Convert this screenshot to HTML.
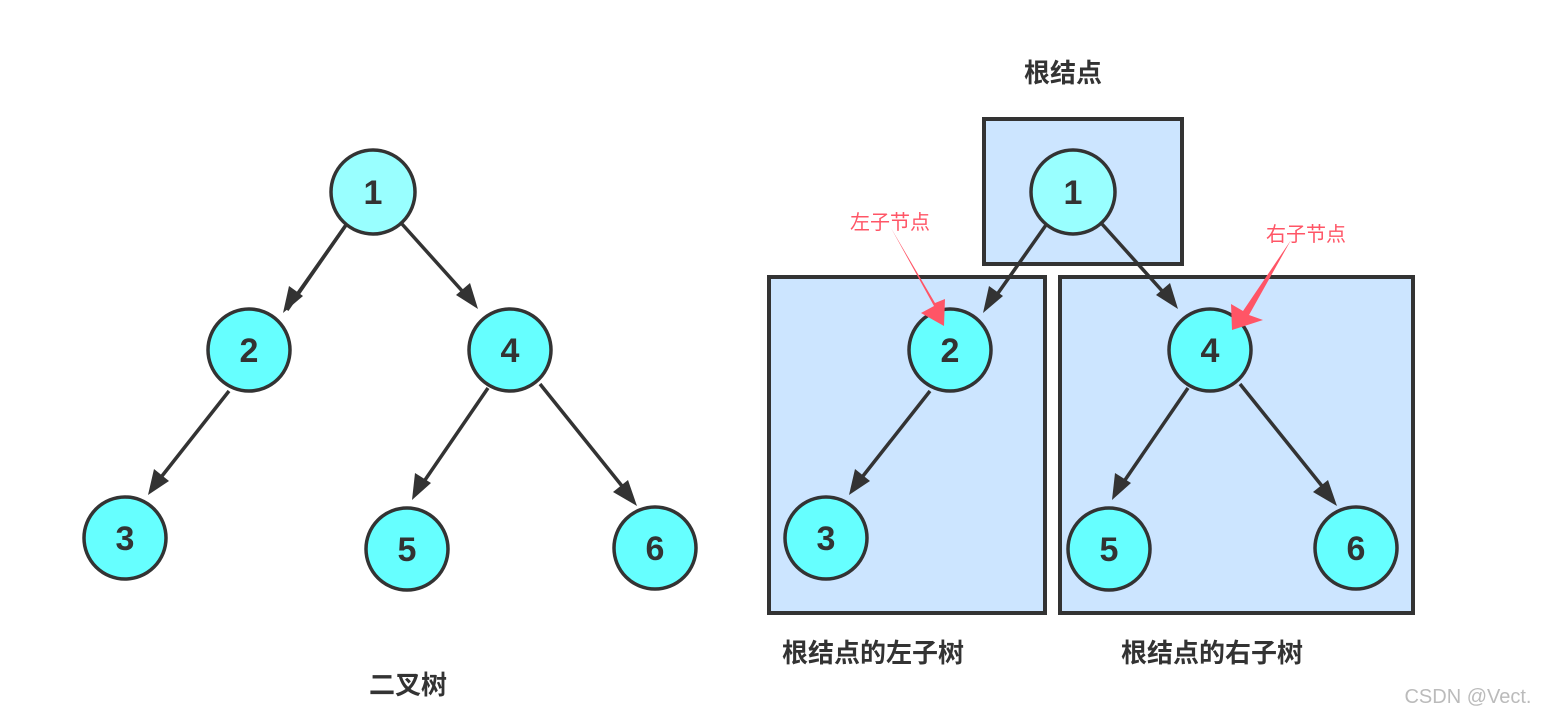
<!DOCTYPE html>
<html><head><meta charset="utf-8"><style>
body{margin:0;background:#fff;}
svg{display:block}
</style></head><body>
<svg width="1562" height="724" viewBox="0 0 1562 724" xmlns="http://www.w3.org/2000/svg">
<defs>
<marker id="a" markerWidth="10" markerHeight="10" refX="8" refY="5" orient="auto" markerUnits="userSpaceOnUse" viewBox="0 0 10 10">
<path d="M0,0 L10,5 L0,10 L3,5 z" fill="#333"/></marker>
</defs>
<g font-family="'Liberation Sans','Noto Sans CJK SC',sans-serif">
<!-- boxes -->
<rect x="984" y="119" width="198" height="145" fill="#cce5ff" stroke="#333" stroke-width="4"/>
<rect x="769" y="277" width="276" height="336" fill="#cce5ff" stroke="#333" stroke-width="4"/>
<rect x="1060" y="277" width="353" height="336" fill="#cce5ff" stroke="#333" stroke-width="4"/>
<g stroke="#333" stroke-width="3.5" fill="none">
<line x1="346" y1="225" x2="287" y2="310" marker-end="url(#a)" style="marker-end:none"/>
</g>
<g id="edges" stroke="#333" stroke-width="3.5">
</g>
<g stroke="#333" stroke-width="3.5">
<!-- left tree -->
<line x1="346" y1="225" x2="296" y2="296"/><line x1="402" y1="224" x2="464" y2="293"/>
<line x1="229" y1="391" x2="162" y2="476"/><line x1="488" y1="388" x2="425" y2="480"/>
<line x1="540" y1="384" x2="622" y2="486"/>
<line x1="1046" y1="225" x2="996" y2="296"/><line x1="1102" y1="224" x2="1164" y2="293"/>
<line x1="930" y1="391" x2="863" y2="476"/><line x1="1188" y1="388" x2="1125" y2="480"/>
<line x1="1240" y1="384" x2="1322" y2="486"/>
</g>
<g fill="#333">
<path d="M283 313 L289 286 L303 296 Z"/>
<path d="M478 309 L456 295 L470 283 Z"/>
<path d="M148 495 L154 469 L169 481 Z"/>
<path d="M412 500 L415 473 L431 483 Z"/>
<path d="M637 506 L613 492 L628 480 Z"/>
<path d="M983 313 L989 286 L1003 296 Z"/>
<path d="M1178 309 L1156 295 L1170 283 Z"/>
<path d="M849 495 L855 469 L870 481 Z"/>
<path d="M1112 500 L1115 473 L1131 483 Z"/>
<path d="M1337 506 L1313 492 L1328 480 Z"/>
</g>
<g stroke="#333" stroke-width="3.5" font-weight="bold" font-size="34" text-anchor="middle">
<circle cx="373" cy="192" r="42" fill="#99ffff"/>
<circle cx="249" cy="350" r="41" fill="#66ffff"/>
<circle cx="510" cy="350" r="41" fill="#66ffff"/>
<circle cx="125" cy="538" r="41" fill="#66ffff"/>
<circle cx="407" cy="549" r="41" fill="#66ffff"/>
<circle cx="655" cy="548" r="41" fill="#66ffff"/>
<circle cx="1073" cy="192" r="42" fill="#99ffff"/>
<circle cx="950" cy="350" r="41" fill="#66ffff"/>
<circle cx="1210" cy="350" r="41" fill="#66ffff"/>
<circle cx="826" cy="538" r="41" fill="#66ffff"/>
<circle cx="1109" cy="549" r="41" fill="#66ffff"/>
<circle cx="1356" cy="548" r="41" fill="#66ffff"/>
</g>
<g fill="#333" font-weight="bold" font-size="34" text-anchor="middle">
<text x="373" y="204">1</text><text x="249" y="362">2</text><text x="510" y="362">4</text>
<text x="125" y="550">3</text><text x="407" y="561">5</text><text x="655" y="560">6</text>
<text x="1073" y="204">1</text><text x="950" y="362">2</text><text x="1210" y="362">4</text>
<text x="826" y="550">3</text><text x="1109" y="561">5</text><text x="1356" y="560">6</text>
</g>
<g fill="#333" font-weight="bold" font-size="26" text-anchor="middle">
<text x="1063" y="82">根结点</text>
<text x="408" y="694">二叉树</text>
<text x="873" y="662">根结点的左子树</text>
<text x="1212" y="662">根结点的右子树</text>
</g>
<g fill="#ff5566" font-size="20" text-anchor="middle">
<text x="890" y="229">左子节点</text>
<text x="1306" y="241">右子节点</text>
</g>
<path d="M891 228 L934 306 L921 313 L944 326 L945 299 L935 303 Z" fill="#ff5566"/>
<path d="M1291 240 L1243 311 L1231 304 L1232 330 L1263 320 L1249 315 Z" fill="#ff5566"/>
<text x="1468" y="703" fill="#bbb" font-size="20" text-anchor="middle">CSDN @Vect.</text>
</g>
</svg>
</body></html>
